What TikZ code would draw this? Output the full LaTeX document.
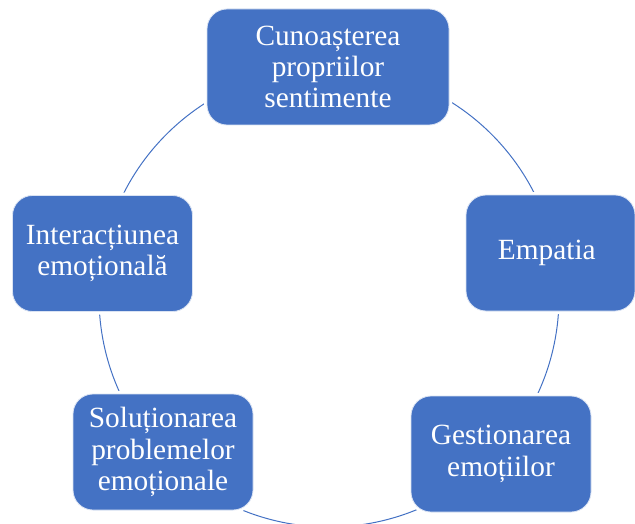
\documentclass[tikz,border=0pt]{standalone}
\usepackage{fontspec}
\setmainfont{Liberation Serif}
\usetikzlibrary{positioning}
\usepackage{xcolor}
\definecolor{boxblue}{HTML}{4472C4}

\begin{document}
\begin{tikzpicture}[x=0.75pt, y=-0.75pt, every node/.style={
    rectangle,
    rounded corners=15pt,
    draw=white!80!boxblue,
    line width=0.6pt,
    fill=boxblue,
    text=white,
    align=center,
    minimum width=135pt,
    minimum height=87pt,
    font=\fontsize{22}{23.5}\selectfont,
    preaction={draw=white, line width=4.5pt}
}]
    \useasboundingbox (0,0) rectangle (635,524);

    % the cycle behind the boxes
    \coordinate (cycle_centre) at (329,297);
    \draw[boxblue, line width=0.75pt] (cycle_centre) circle [radius=172.5pt];

    \node (cunoasterea) [minimum width=181.5pt, shift={(328,67)}]
    {
        Cunoașterea\\propriilor\\sentimente
    };

    \node (empatia) [minimum width=126.75pt, shift={(550.5,253)}]
    {
        Empatia
    };

    \node (gestionarea) [shift={(501,454)}]
    {
        Gestionarea\\emoțiilor
    };

    \node (solutionarea) [shift={(163,452)}]
    {
        Soluționarea\\problemelor\\emoționale
    };

    \node (interactiunea) [shift={(102.5,253.5)}]
    {
        Interacțiunea\\emoțională
    };
\end{tikzpicture}
\end{document}
